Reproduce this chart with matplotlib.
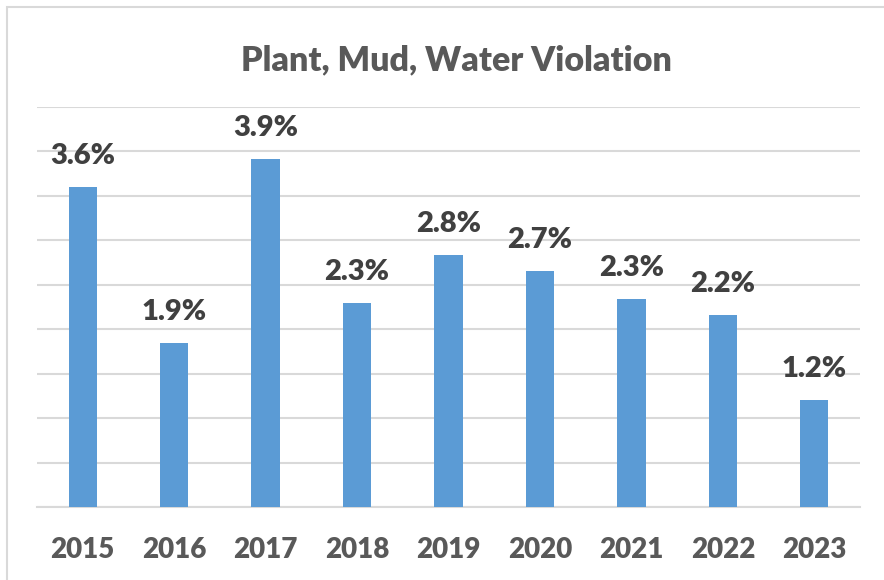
import matplotlib.pyplot as plt
from matplotlib.patches import Rectangle

years = ['2015', '2016', '2017', '2018', '2019', '2020', '2021', '2022', '2023']
rates = [3.60, 1.85, 3.91, 2.30, 2.84, 2.66, 2.34, 2.16, 1.20]
title = 'Plant, Mud, Water Violation'

plt.rcParams['font.family'] = ['Lato', 'DejaVu Sans']

fig = plt.figure(figsize=(8.84, 5.8), dpi=100)
W, H = 884, 580
ax = fig.add_axes([37 / W, 1 - 507 / H, (860 - 37) / W, 400 / H])

# рамка вокруг диаграммы
fig.patches.append(Rectangle((7 / W, -0.1), 1.2, 1 - 7 / H + 0.1,
                             transform=fig.transFigure, fill=False,
                             edgecolor='#D9D9D9', linewidth=1.5))

x = list(range(len(years)))
bars = ax.bar(x, rates, width=0.31, color='#5B9BD5', zorder=3)

for xi, v in zip(x, rates):
    ax.annotate(f'{v:.1f}%', (xi, v), xytext=(0, 13), textcoords='offset points',
                ha='center', va='bottom', fontsize=21, fontweight='heavy',
                color='#404040')

ax.set_xlim(-0.5, len(years) - 0.5)
ax.set_ylim(0, 4.5)
ax.set_yticks([i * 0.5 for i in range(10)])
ax.yaxis.grid(True, color='#D9D9D9', linewidth=1.5, zorder=0)
ax.tick_params(axis='y', left=False, labelleft=False)
ax.tick_params(axis='x', bottom=False, pad=18)
ax.set_xticks(x)
ax.set_xticklabels(years, fontsize=20, fontweight='heavy', color='#595959')
for s in ['top', 'right', 'left']:
    ax.spines[s].set_visible(False)
ax.spines['bottom'].set_color('#D9D9D9')
ax.spines['bottom'].set_linewidth(1.5)

fig.text(456 / W, 1 - 60 / H, title, ha='center', va='center',
         fontsize=24.5, fontweight='heavy', color='#595959')

fig.savefig('out.png', dpi=100)
